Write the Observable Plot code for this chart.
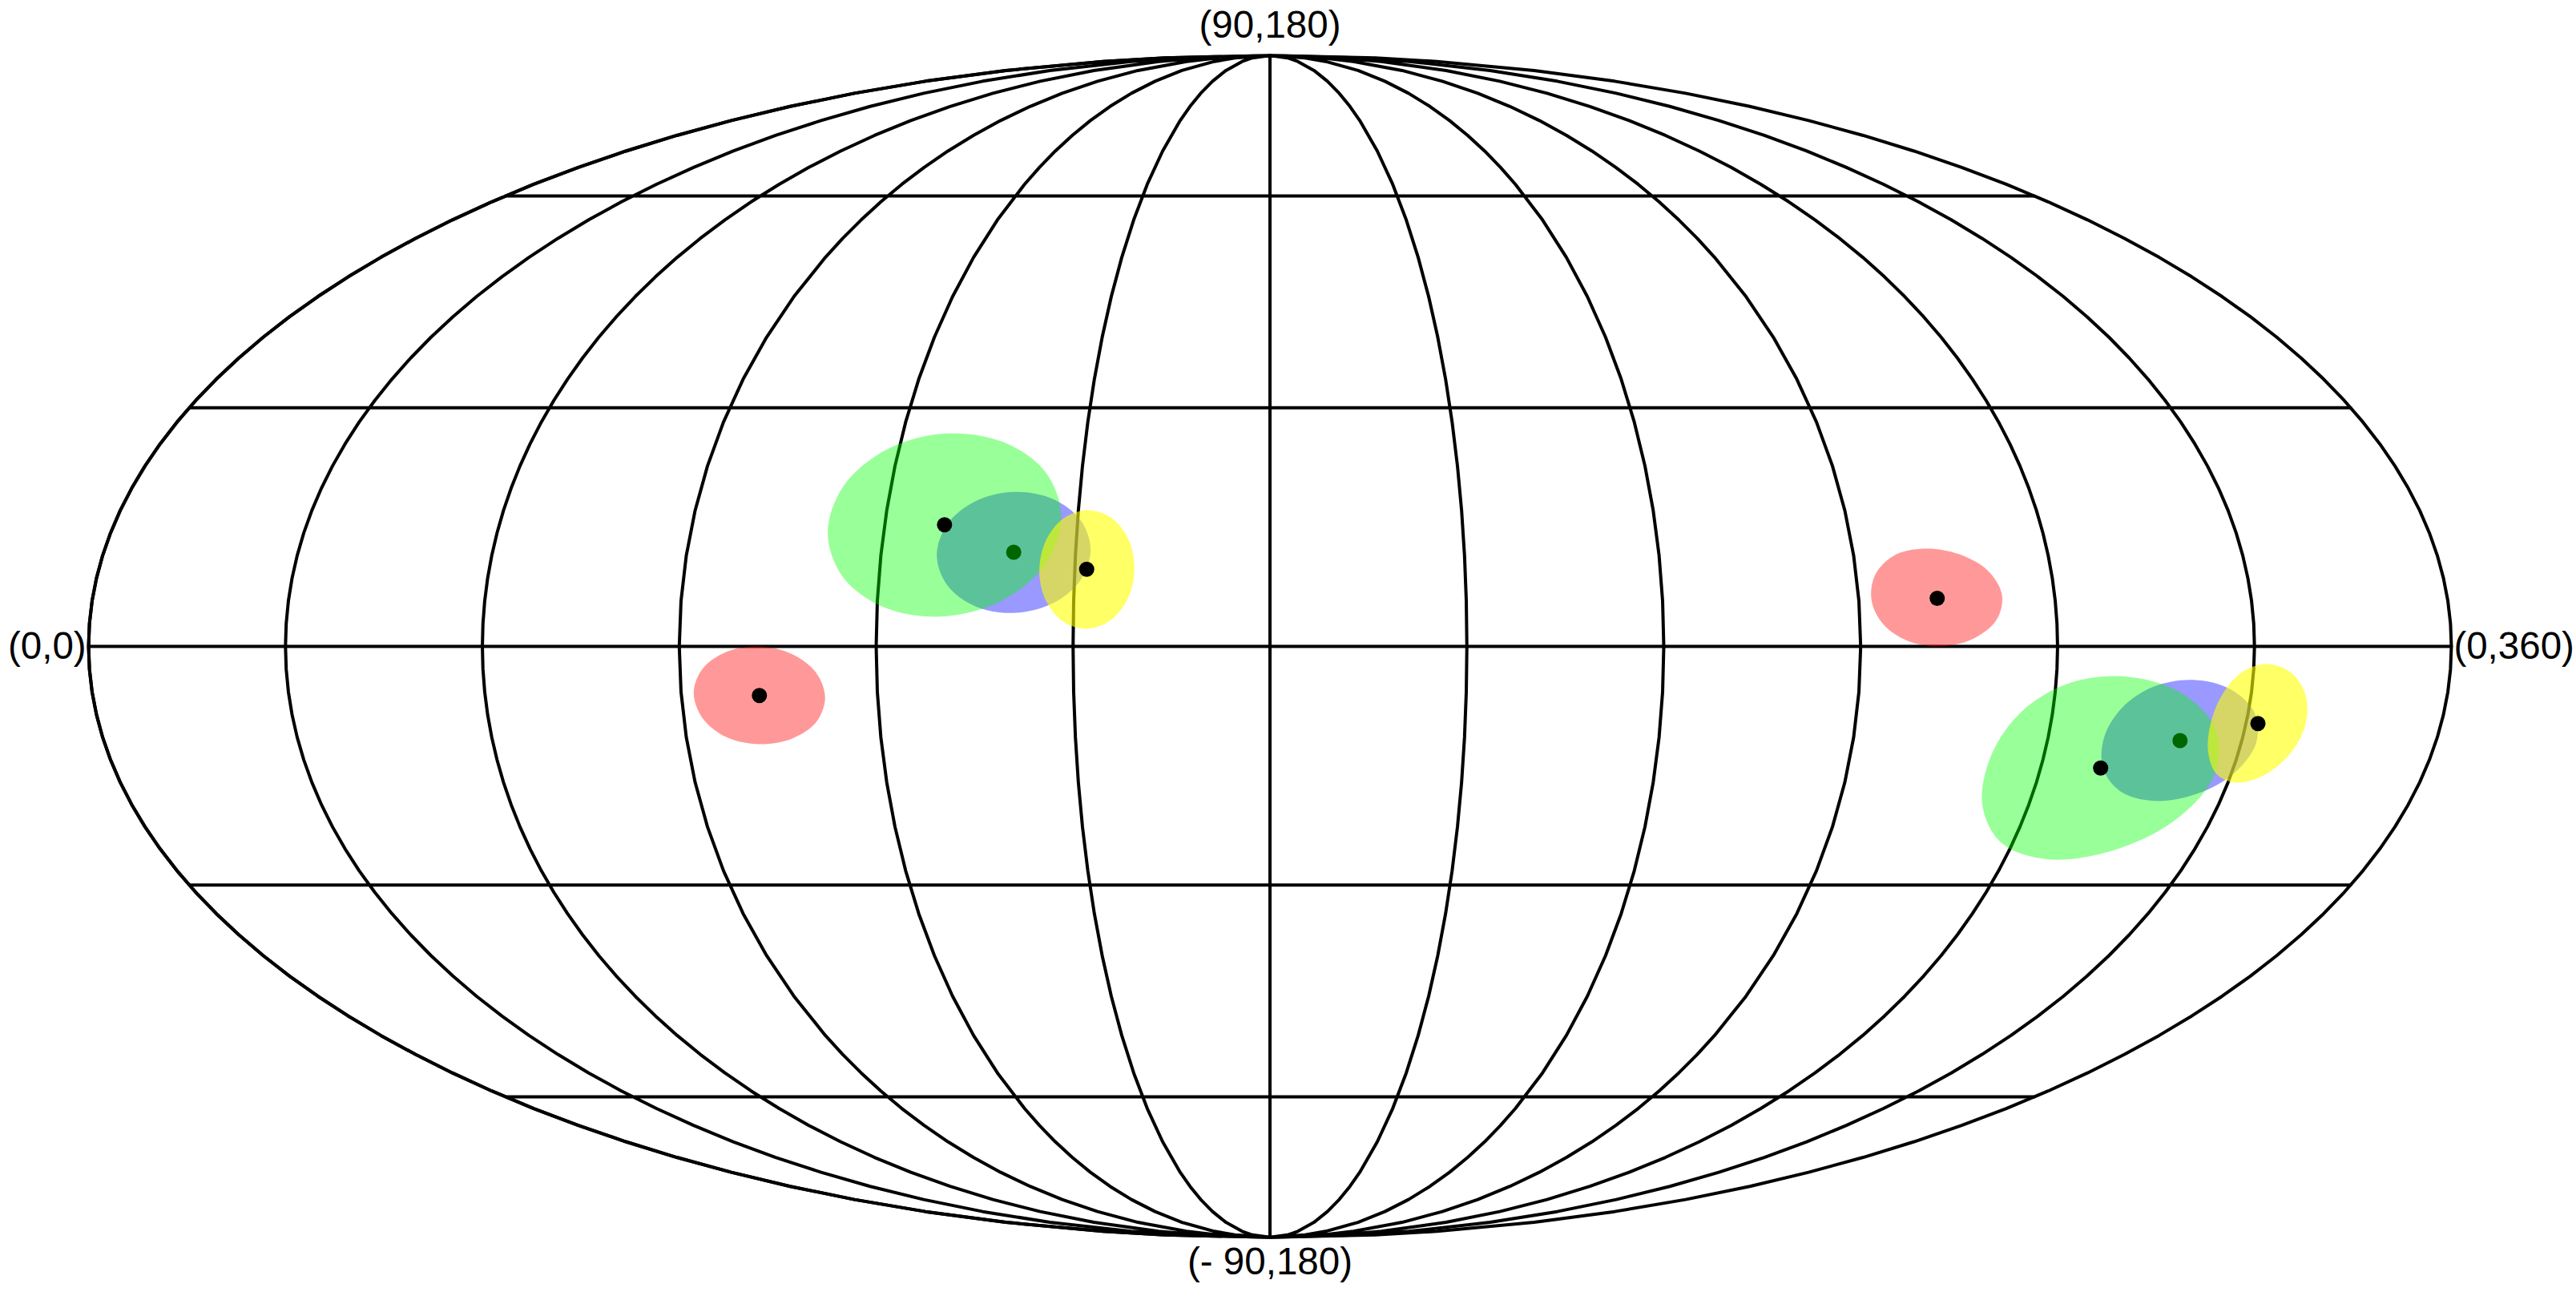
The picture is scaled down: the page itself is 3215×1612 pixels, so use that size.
<!DOCTYPE html>
<html>
<head>
<meta charset="utf-8">
<style>html,body{margin:0;padding:0;background:#fff;}svg{display:block;}</style>
<script src="https://cdn.jsdelivr.net/npm/d3@7"></script>
<script src="https://cdn.jsdelivr.net/npm/@observablehq/plot@0.6"></script>
</head>
<body>
<div id="chart"></div>
<script>
// Boundaries of the regions, [longitude 0..360, latitude]
const redWest = [[111.96,-6.34],[110.31,-9.35],[106.32,-11.40],[101.12,-12.10],[96.21,-11.24],[92.90,-8.86],[91.93,-5.74],[93.48,-2.76],[97.20,-0.66],[102.21,0],[107.21,-0.96],[110.81,-3.28]];
const redEast = [[291.96,6.34],[290.31,9.35],[286.32,11.40],[281.12,12.10],[276.21,11.24],[272.90,8.86],[271.93,5.74],[273.48,2.76],[277.20,0.66],[282.21,0],[287.21,0.96],[290.81,3.28]];
const blueWest = [[152.30,11.96],[150.92,8.16],[146.73,5.29],[140.89,4.13],[135.00,4.96],[130.55,7.58],[128.62,11.30],[129.73,15.12],[133.68,18.02],[139.55,19.21],[145.73,18.36],[150.42,15.70]];
const blueEast = [[332.30,-11.96],[330.92,-8.16],[326.73,-5.29],[320.89,-4.13],[315.00,-4.96],[310.55,-7.58],[308.62,-11.30],[309.73,-15.12],[313.68,-18.02],[319.55,-19.21],[325.73,-18.36],[330.42,-15.70]];
const greenWest = [[147.41,16.07],[145.48,10.23],[139.18,5.72],[130.35,3.71],[121.39,4.73],[114.56,8.50],[111.35,14.06],[112.47,19.93],[117.98,24.56],[126.84,26.64],[136.62,25.58],[144.23,21.70]];
const greenEast = [[327.41,-16.07],[325.48,-10.23],[319.18,-5.72],[310.35,-3.71],[301.39,-4.73],[294.76,-8.50],[291.70,-14.06],[292.80,-19.93],[298.20,-24.56],[306.84,-26.64],[316.62,-25.58],[324.23,-21.70]];
const yellowWest = [[159.16,9.69],[158.31,5.99],[155.70,3.24],[152.09,2.18],[148.46,3.07],[145.73,5.69],[144.57,9.35],[145.27,13.06],[147.72,15.84],[151.33,16.92],[155.12,16.01],[158.01,13.36]];
const yellowEast = [[339.16,-9.69],[338.31,-5.99],[335.70,-3.24],[332.09,-2.18],[328.46,-3.07],[325.73,-5.69],[324.57,-9.35],[325.27,-13.06],[327.72,-15.84],[331.33,-16.92],[335.12,-16.01],[338.01,-13.36]];

// Region centres
const redCentres = [[101.94,-6.07],[282.00,5.94]];
const blueCentres = [[140.45,11.65],[320.45,-11.65]];
const greenCentres = [[129.33,15.08],[309.33,-15.08]];
const yellowCentres = [[151.83,9.55],[331.83,-9.55]];

// Corner labels
const labelText = ["(90,180)","(- 90,180)","(0,0)","(0,360)"];
const labelLon = [180,180,0.01,359.99];
const labelLat = [90,-90,0,0];

// Grid spacing in degrees
const gridStep = [30,30];

// Mollweide
function mollweideRaw(lambda, phi) {
  let t = 2 * phi;
  if (Math.abs(phi) < Math.PI / 2 - 1e-9) {
    const target = Math.PI * Math.sin(phi);
    for (let i = 0; i < 40; ++i) {
      const d = (t + Math.sin(t) - target) / (1 + Math.cos(t));
      t -= d;
      if (Math.abs(d) < 1e-10) break;
    }
  }
  return [2 * Math.SQRT2 / Math.PI * lambda * Math.cos(t / 2), Math.SQRT2 * Math.sin(t / 2)];
}
const projection = d3.geoProjection(mollweideRaw).rotate([-180,0]).scale(521.3).translate([1584.5,806]);

const graticule = d3.geoGraticule()
  .extent([[-180,-90.000001],[180,90.000001]])
  .step(gridStep)();

const lon = d => d[0], lat = d => d[1];
const region = (pts, color, opacity) => Plot.line(pts, {x: lon, y: lat, curve: "catmull-rom-closed", fill: color, fillOpacity: opacity, stroke: "none"});
const centre = pts => Plot.dot(pts, {x: lon, y: lat, r: 9.5, fill: "#000", stroke: "none"});
const label = (i, opts) => Plot.text([labelText[i]], {x: [labelLon[i]], y: [labelLat[i]], text: d => d, fill: "#000", fontSize: 47.5, ...opts});

const chart = Plot.plot({
  width: 3215,
  height: 1612,
  margin: 0,
  projection,
  style: {fontFamily: "'Liberation Sans', Arial, sans-serif", background: "#fff"},
  marks: [
    Plot.geo(graticule, {stroke: "#000", strokeWidth: 4, fill: "none"}),
    Plot.sphere({stroke: "#000", strokeWidth: 4}),
    region(redWest, "#f00", 0.4), region(redEast, "#f00", 0.4),
    centre(redCentres),
    region(blueWest, "#00f", 0.4), region(blueEast, "#00f", 0.4),
    centre(blueCentres),
    region(greenWest, "#0f0", 0.4), region(greenEast, "#0f0", 0.4),
    centre(greenCentres),
    region(yellowWest, "#ff0", 0.6), region(yellowEast, "#ff0", 0.6),
    centre(yellowCentres),
    label(0, {dy: -37}),
    label(1, {dy: 31}),
    label(2, {textAnchor: "end", dx: -3}),
    label(3, {textAnchor: "start", dx: 3})
  ]
});
document.getElementById("chart").appendChild(chart);
</script>
</body>
</html>
